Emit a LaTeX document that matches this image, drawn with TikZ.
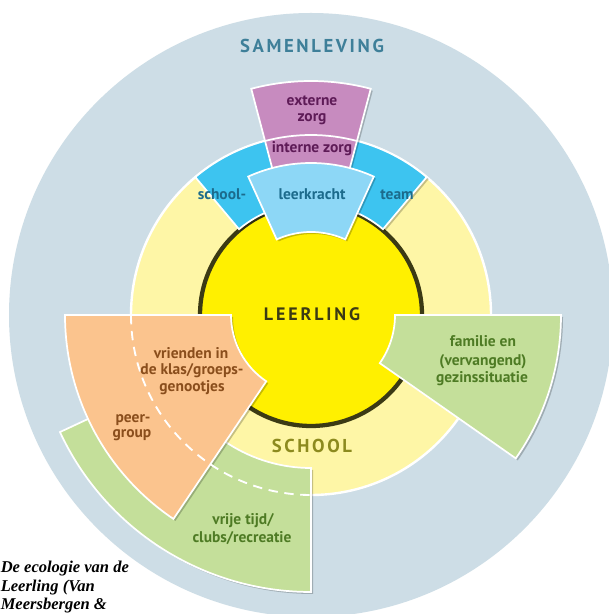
\documentclass[tikz,border=0pt]{standalone}
\usepackage{fontspec}
\setmainfont{PT Sans}
\newfontfamily\capfont{Liberation Serif}
\usetikzlibrary{shadows}
\definecolor{samen}{HTML}{CDDDE6}
\definecolor{schoolc}{HTML}{FEF6A6}
\definecolor{leerc}{HTML}{FFF000}
\definecolor{ringc}{HTML}{3B3A14}
\definecolor{bandc}{HTML}{3DC4F0}
\definecolor{leerkc}{HTML}{8DD7F6}
\definecolor{purp}{HTML}{C78BBF}
\definecolor{peach}{HTML}{FBC48E}
\definecolor{greenc}{HTML}{C4DF9A}
\definecolor{txtblue}{HTML}{1C6B8C}
\definecolor{txtpurple}{HTML}{5E1B57}
\definecolor{txtbrown}{HTML}{8A4E1C}
\definecolor{txtgreen}{HTML}{4E7B24}
\definecolor{samtxt}{HTML}{3E7F99}
\definecolor{schooltxt}{HTML}{8C8A1E}
\newcommand{\annsec}[5][]{\path[#1] (#2:#5) arc[start angle=#2,end angle=#3,radius=#5] -- (#3:#4) arc[start angle=#3,end angle=#2,radius=#4] -- cycle;}
\tikzset{
  rimline/.style={draw=white, line width=1.3},
  shd/.style={drop shadow={shadow xshift=1.5pt, shadow yshift=-1.5pt, opacity=0.22, fill=black}},
  lbl/.style={font=\fontsize{11.6}{13}\selectfont\bfseries, anchor=base, inner sep=0pt},
  bigtxt/.style={font=\fontsize{14}{16}\selectfont\bfseries\addfontfeatures{LetterSpace=14}, anchor=base, inner sep=0pt},
  captxt/.style={font=\fontsize{12.4}{14}\selectfont\capfont\bfseries\itshape, anchor=base west, inner sep=0pt},
}
\begin{document}
\begin{tikzpicture}[x=0.75pt,y=0.75pt]
\useasboundingbox (0,0) rectangle (609,614);
\clip (0,0) rectangle (609,614);
\fill[white] (0,0) rectangle (609,614);
\begin{scope}[shift={(311,299)}]
  % samenleving
  \fill[samen] (0,0) circle[radius=302];
  % school ring
  \path[fill=schoolc, rimline, line width=1.8] (0,0) circle[radius=180];
  % leerling
  \path[fill=leerc, draw=ringc, line width=3.2] (0,0) circle[radius=111];
  % blue band
  \annsec[fill=bandc, rimline, shd]{50}{130}{112}{180}
  % purple
  \annsec[fill=purp, rimline, shd]{75.2}{104.8}{150}{234}
  \draw[white, line width=1.3] (75.2:180) arc[start angle=75.2,end angle=104.8,radius=180];
  % leerkracht
  \annsec[fill=leerkc, rimline, shd]{65.6}{114.4}{83}{152}
  % vrije tijd
  \annsec[fill=greenc, rimline, shd]{205}{270}{153}{277}
  % peer group
  \annsec[fill=peach, rimline, shd]{180}{236}{80}{246}
  \draw[white, line width=1.4, dash pattern=on 7pt off 5pt] (180:180) arc[start angle=180,end angle=270,radius=180];
  % familie
  \annsec[fill=greenc, rimline, shd]{-35}{0}{84}{250}
\end{scope}
% texts
\node[bigtxt, text=samtxt] (samen) at (312,561) {SAMENLEVING};
\node[bigtxt, text=ringc, font=\fontsize{13.5}{16}\selectfont\bfseries\addfontfeatures{LetterSpace=16}] (leerling) at (312,293) {LEERLING};
\node[bigtxt, text=schooltxt] (school) at (312,161) {SCHOOL};
\node[lbl, text=txtpurple] (ext1) at (312,508) {externe};
\node[lbl, text=txtpurple] (ext2) at (312,492) {zorg};
\node[lbl, text=txtpurple] (int) at (312,461) {interne zorg};
\node[lbl, text=txtblue] (schl) at (222,414) {school-};
\node[lbl, text=txtblue] (lk) at (312,414) {leerkracht};
\node[lbl, text=txtblue] (tm) at (397,414) {team};
\node[lbl, text=txtbrown] (vr1) at (191,255) {vrienden in};
\node[lbl, text=txtbrown] (vr2) at (192,239) {de klas/groeps-};
\node[lbl, text=txtbrown] (vr3) at (192,222) {genootjes};
\node[lbl, text=txtbrown] (pg1) at (133,191) {peer-};
\node[lbl, text=txtbrown] (pg2) at (132,176) {group};
\node[lbl, text=txtgreen] (vt1) at (243,89) {vrije tijd/};
\node[lbl, text=txtgreen] (vt2) at (242,71) {clubs/recreatie};
\node[lbl, text=txtgreen] (fa1) at (483,267) {familie en};
\node[lbl, text=txtgreen] (fa2) at (483,248) {(vervangend)};
\node[lbl, text=txtgreen] (fa3) at (482,231) {gezinssituatie};
\node[captxt] (c1) at (0.5,41) {De ecologie van de};
\node[captxt] (c2) at (0.5,22) {Leerling (Van};
\node[captxt] (c3) at (0.5,4) {Meersbergen \&};
\end{tikzpicture}
\end{document}
